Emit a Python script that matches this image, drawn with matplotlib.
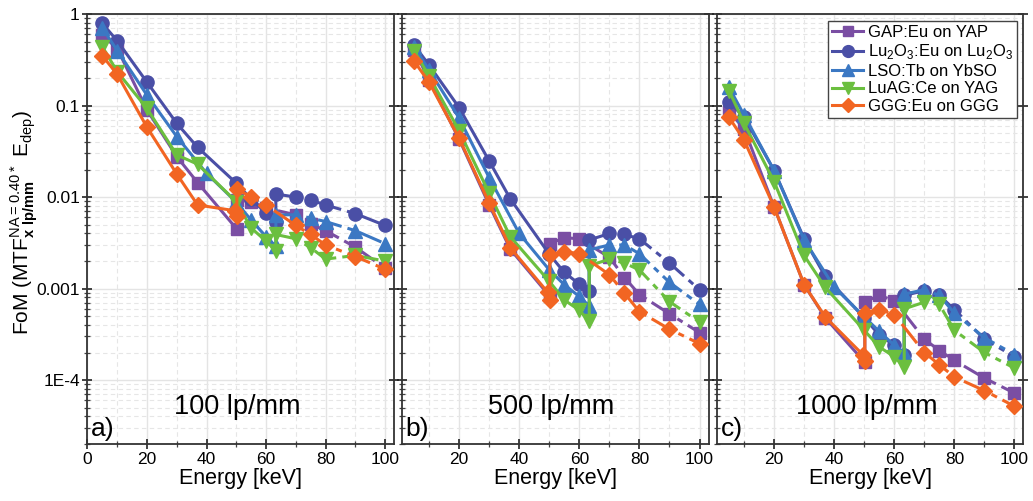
import matplotlib
matplotlib.use('Agg')
import matplotlib.pyplot as plt
from matplotlib.ticker import FixedLocator, LogLocator, NullFormatter, FixedFormatter, MultipleLocator

plt.rcParams['font.family'] = ['Liberation Sans', 'DejaVu Sans']
plt.rcParams['mathtext.fontset'] = 'custom'
plt.rcParams['mathtext.rm'] = 'Liberation Sans'
plt.rcParams['mathtext.bf'] = 'Liberation Sans:bold'

# energies (keV); doubled points are below/above the K-edge
e_gap = [5, 10, 20, 30, 37, 50.2, 50.2, 55, 60, 70, 75, 80, 90, 100]
e_ggg = [5, 10, 20, 30, 37, 49.5, 50.2, 50.2, 55, 60, 70, 75, 80, 90, 100]
e_lu = [5, 10, 20, 30, 37, 50, 55, 60, 63.3, 63.3, 70, 75, 80, 90, 100]
e_lso = [5, 10, 20, 30, 40, 50, 55, 60, 63.3, 63.3, 70, 75, 80, 90, 100]

# 100 lp/mm
gap_100 = [0.59, 0.42, 0.0895, 0.0277, 0.0144, 0.00446, 0.0093, 0.0089, 0.0076, 0.0064, 0.0051, 0.0043, 0.00284, 0.00167]
lu2o3_100 = [0.79, 0.51, 0.18, 0.064, 0.035, 0.0142, 0.0095, 0.0067, 0.0053, 0.0108, 0.0100, 0.0093, 0.0082, 0.0066, 0.0049]
lso_100 = [0.70, 0.40, 0.13, 0.0458, 0.0182, 0.0088, 0.0056, 0.0037, 0.0029, 0.0064, 0.0064, 0.0059, 0.0054, 0.0043, 0.0031]
luag_100 = [0.44, 0.235, 0.093, 0.0289, 0.0229, 0.0089, 0.0046, 0.0033, 0.0026, 0.0039, 0.0035, 0.0028, 0.0021, 0.0023, 0.0020]
ggg_100 = [0.35, 0.22, 0.058, 0.0179, 0.0082, 0.0071, 0.0062, 0.0122, 0.0101, 0.0082, 0.0049, 0.0039, 0.0030, 0.00224, 0.00163]

# 500 lp/mm
gap_500 = [0.41, 0.19, 0.043, 0.0082, 0.0027, 0.00082, 0.0031, 0.0036, 0.0035, 0.0022, 0.00132, 0.00086, 0.00053, 0.00033]
lu2o3_500 = [0.46, 0.277, 0.095, 0.0248, 0.0096, 0.00238, 0.0015, 0.00112, 0.00093, 0.0034, 0.0040, 0.0039, 0.0035, 0.0019, 0.00097]
lso_500 = [0.44, 0.245, 0.073, 0.0163, 0.0040, 0.0016, 0.0011, 0.00082, 0.00064, 0.00265, 0.0030, 0.0030, 0.0024, 0.00117, 0.00067]
luag_500 = [0.40, 0.21, 0.053, 0.0110, 0.0037, 0.0012, 0.00075, 0.00058, 0.00044, 0.00177, 0.0021, 0.0019, 0.0016, 0.00072, 0.00043]
ggg_500 = [0.307, 0.18, 0.044, 0.0086, 0.0028, 0.00091, 0.00075, 0.00234, 0.00254, 0.0024, 0.00142, 0.00089, 0.00056, 0.00036, 0.00025]

# 1000 lp/mm
gap_1000 = [0.086, 0.056, 0.0078, 0.0011, 0.00048, 0.000156, 0.00072, 0.00084, 0.00074, 0.00028, 0.00021, 0.000164, 0.000105, 0.000072]
lu2o3_1000 = [0.110, 0.075, 0.0195, 0.0035, 0.00136, 0.00048, 0.00031, 0.00024, 0.00019, 0.00084, 0.00095, 0.00084, 0.00059, 0.00028, 0.00018]
lso_1000 = [0.158, 0.079, 0.0195, 0.0034, 0.00104, 0.00049, 0.00034, 0.00024, 0.0002, 0.00087, 0.00097, 0.00084, 0.00054, 0.00029, 0.00019]
luag_1000 = [0.146, 0.064, 0.0148, 0.0023, 0.00103, 0.00035, 0.00023, 0.00018, 0.000139, 0.0006, 0.00071, 0.00067, 0.00035, 0.0002, 0.000135]
ggg_1000 = [0.0745, 0.042, 0.0078, 0.0011, 0.00049, 0.00019, 0.00016, 0.00054, 0.00059, 0.00052, 0.0002, 0.000147, 0.000108, 0.0000766, 0.0000517]

names = ['GAP:Eu on YAP', 'Lu$_2$O$_3$:Eu on Lu$_2$O$_3$', 'LSO:Tb on YbSO', 'LuAG:Ce on YAG', 'GGG:Eu on GGG']
colors = ['#7a4ea3', '#4a4fa6', '#3b78c3', '#6bbf3f', '#f26522']
markers = ['s', 'o', '^', 'v', 'D']
msizes = [8, 9.5, 9.5, 9.5, 8.5]
energies = [e_gap, e_lu, e_lso, e_lu, e_ggg]
edge_idx = [6, 9, 9, 9, 7]   # first point above the K-edge

panels = [
    ([gap_100, lu2o3_100, lso_100, luag_100, ggg_100], '100 lp/mm', 'a)'),
    ([gap_500, lu2o3_500, lso_500, luag_500, ggg_500], '500 lp/mm', 'b)'),
    ([gap_1000, lu2o3_1000, lso_1000, luag_1000, ggg_1000], '1000 lp/mm', 'c)'),
]

fig = plt.figure(figsize=(10.33, 5.01), dpi=100)
lefts = [0.0847, 0.3892, 0.6941]
axes = [fig.add_axes([l, 0.1138, 0.2967, 0.858]) for l in lefts]

for i, (ax, (series, res, tag)) in enumerate(zip(axes, panels)):
    for k in range(5):
        x = energies[k]
        y = series[k]
        j = edge_idx[k]
        ax.plot(x[:j + 1], y[:j + 1], '-', color=colors[k], lw=2.2, zorder=3 + k)
        ax.plot(x[j:], y[j:], color=colors[k], lw=2.2, dashes=(8, 2, 2, 2), zorder=3 + k)
        ax.plot(x, y, ls='none', marker=markers[k], ms=msizes[k], color=colors[k],
                mec=colors[k], zorder=3 + k)

    ax.set_yscale('log')
    ax.set_ylim(2e-5, 1)
    ax.set_xlim(0 if i == 0 else 1, 103)
    ax.xaxis.set_major_locator(MultipleLocator(20))
    ax.xaxis.set_minor_locator(MultipleLocator(10))
    ax.yaxis.set_major_locator(FixedLocator([1e-4, 1e-3, 1e-2, 1e-1, 1]))
    ax.yaxis.set_minor_locator(LogLocator(base=10, subs=range(2, 10), numticks=20))
    ax.yaxis.set_minor_formatter(NullFormatter())
    if i == 0:
        ax.yaxis.set_major_formatter(FixedFormatter(['1E-4', '0.001', '0.01', '0.1', '1']))
    else:
        ax.yaxis.set_major_formatter(NullFormatter())

    ax.grid(True, which='major', color='#e4e4e4', lw=1.0, zorder=0)
    ax.grid(True, which='minor', color='#e6e6e6', lw=0.8, ls=(0, (4, 3)), zorder=0)
    ax.set_axisbelow(True)
    ax.tick_params(axis='both', which='major', direction='inout', length=7, width=1.2,
                   labelsize=12.5, colors='#222222', labelcolor='black', pad=2)
    ax.tick_params(axis='both', which='minor', direction='inout', length=4, width=0.9, colors='#444444')
    ax.tick_params(axis='y', which='major', right=True)
    for s in ax.spines.values():
        s.set_linewidth(1.3)
        s.set_color('#333333')

    ax.set_xlabel('Energy [keV]', fontsize=15.5, labelpad=1)
    ax.text(0.487, 0.085, res, transform=ax.transAxes, fontsize=19.5, ha='center', va='center')
    ax.text(0.012, 0.035, tag, transform=ax.transAxes, fontsize=19, ha='left', va='center')

fig.text(0.023, 0.555, r'FoM (MTF$^{\mathrm{NA=0.40*}}_{\mathbf{x\ lp/mm}}$ E$_{\mathrm{dep}}$)',
         fontsize=15, rotation=90, ha='center', va='center')

handles = [plt.Line2D([], [], color=colors[k], marker=markers[k], ms=msizes[k] - 1, lw=2.2) for k in range(5)]
leg = axes[2].legend(handles, names, loc='upper right', fontsize=12, frameon=True, fancybox=False,
                     framealpha=1, edgecolor='#444444', borderpad=0.25, labelspacing=0.15,
                     handlelength=1.9, handletextpad=0.25, borderaxespad=0.4)
leg.get_frame().set_linewidth(1.0)

plt.savefig('out.png', dpi=100)
